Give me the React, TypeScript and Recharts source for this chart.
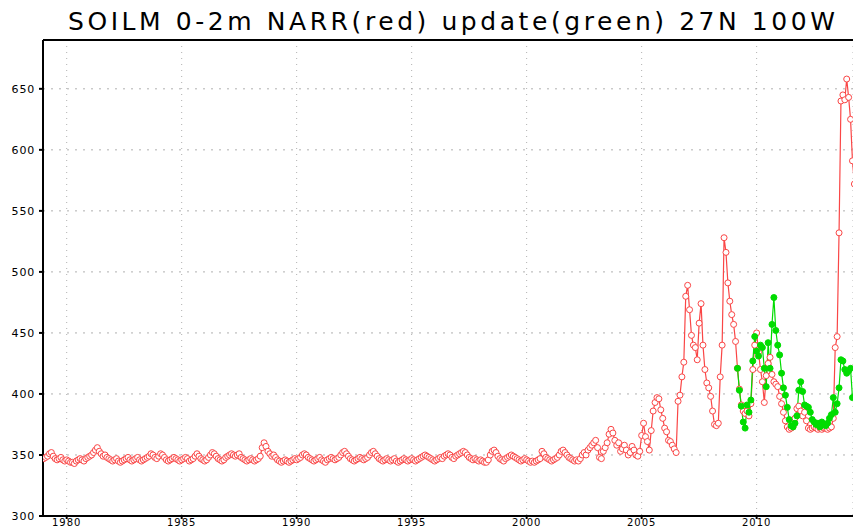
import React from 'react';
import { LineChart, Line, XAxis, YAxis, CartesianGrid, ReferenceLine } from 'recharts';

const TITLE = 'SOILM 0-2m NARR(red) update(green) 27N 100W';

// monthly series, first value = Jan 1979
const START_YEAR = 1979;
// green series starts in Mar 2009
const GREEN_START_INDEX = (2009 - START_YEAR) * 12 + 2;

const red1979to1990 = [
  347, 348, 349, 351, 352, 349, 347, 346, 347, 348, 346, 345,
  346, 345, 344, 344, 343, 345, 346, 347, 346, 345, 347, 348,
  349, 350, 352, 354, 356, 353, 351, 349, 350, 348, 347, 346,
  345, 346, 347, 345, 344, 345, 346, 347, 348, 346, 345, 346,
  347, 348, 346, 345, 346, 347, 348, 349, 351, 350, 348, 347,
  349, 351, 350, 348, 346, 345, 346, 347, 348, 347, 346, 345,
  346, 347, 348, 347, 345, 346, 347, 349, 351, 349, 347, 346,
  345, 346, 348, 350, 352, 351, 349, 347, 346, 345, 346, 348,
  349, 350, 351, 350, 349, 350, 351, 348, 347, 346, 345, 346,
  347, 346, 345, 346, 347, 349, 356, 360, 357, 353, 351, 349,
  350, 348, 346, 345, 344, 345, 346, 345, 344, 345, 346, 347,
  346, 347, 348, 350, 351, 350, 348, 347, 346, 345, 346, 347,
];

const red1991to2002 = [
  348, 346, 345, 344, 346, 347, 348, 347, 346, 347, 348, 350,
  352, 353, 351, 349, 347, 346, 345, 346, 347, 348, 347, 346,
  347, 348, 350, 352, 353, 351, 349, 347, 346, 345, 346, 347,
  346, 345, 346, 347, 345, 344, 345, 346, 347, 346, 345, 346,
  347, 346, 345, 346, 347, 348, 349, 350, 349, 348, 347, 346,
  345, 346, 347, 348, 347, 349, 350, 351, 350, 348, 347, 349,
  350, 351, 352, 353, 352, 350, 348, 347, 346, 347, 346, 345,
  346, 345, 344, 344, 346, 350, 353, 354, 352, 349, 347, 346,
  345, 347, 348, 349, 350, 349, 348, 347, 346, 345, 346, 347,
  346, 345, 344, 345, 344, 345, 346, 347, 353, 351, 348, 347,
  346, 345, 346, 347, 348, 350, 353, 354, 352, 350, 348, 347,
  346, 345, 346, 345, 347, 350, 352, 350, 354, 356, 358, 360,
];

const red2003to2014 = [
  362, 356, 348, 347, 353, 356, 360, 367, 371, 368, 362, 358,
  360, 353, 355, 358, 354, 350, 352, 357, 354, 350, 349, 353,
  366, 376, 365, 361, 354, 370, 386, 393, 397, 396, 387, 380,
  372, 369, 362, 361, 358, 355, 352, 394, 399, 414, 426, 480,
  489, 469, 448, 440, 438, 428, 458, 474, 440, 420, 409, 405,
  398, 386, 375, 374, 376, 414, 440, 528, 516, 491, 476, 465,
  457, 443, 421, 404, 391, 386, 384, 386, 382, 392, 420, 440,
  450, 434, 420, 410, 393, 415, 425, 430, 416, 410, 408, 406,
  398, 392, 385, 378, 373, 371, 372, 373, 380, 388, 390, 386,
  382, 385, 378, 372, 371, 372, 373, 372, 371, 372, 371, 372,
  372, 371, 372, 373, 380, 438, 447, 532, 640, 645, 641, 658,
  643, 625, 591, 572,
];

const greenValues = [
  421, 403, 390, 377, 372, 391, 385, 395, 427, 447,
  435, 431, 440, 438, 421, 406, 442, 421, 457, 479, 452, 440,
  432, 417, 405, 399, 389, 379, 374, 373, 376, 382, 403, 410,
  402, 391, 390, 389, 385, 379, 377, 375, 376, 373, 377, 375,
  374, 376, 380, 383, 397, 385, 392, 405, 428, 427, 420, 417,
  419, 421, 397,
];

const xTicks = [1980, 1985, 1990, 1995, 2000, 2005, 2010];
const yTicks = [300, 350, 400, 450, 500, 550, 600, 650];
const X_DOMAIN: [number, number] = [1978.97, 2014.19];
const Y_DOMAIN: [number, number] = [300, 690];

const RED = '#fa4646';
const GREEN = '#00dc00';

const redValues = [...red1979to1990, ...red1991to2002, ...red2003to2014];
const data = redValues.map((v, i) => {
  const g = i - GREEN_START_INDEX;
  return {
    t: START_YEAR + i / 12,
    red: v,
    green: g >= 0 && g < greenValues.length ? greenValues[g] : null,
  };
});

const yTickFont = { fontSize: 11, fill: '#000', fontFamily: 'DejaVu Sans', letterSpacing: 0.8 };
const xTickFont = { fontSize: 10, fill: '#000', fontFamily: 'DejaVu Sans', letterSpacing: 1 };

export default function App() {
  return (
    <div style={{ position: 'absolute', left: 0, top: 0, width: 853, height: 529, overflow: 'hidden', background: '#fff' }}>
      <svg width={853} height={40} style={{ position: 'absolute', left: 0, top: 0 }}>
        <text
          x={68}
          y={30}
          fontFamily="DejaVu Sans"
          fontSize={25}
          fill="#000"
          textLength={767}
          lengthAdjust="spacing"
        >
          {TITLE}
        </text>
      </svg>
      <div style={{ position: 'absolute', left: 0, top: 0 }}>
        <LineChart width={853} height={529} data={data} margin={{ top: 40, right: 0, bottom: 0, left: 0 }}>
          <CartesianGrid horizontal={true} vertical={false} stroke="#b0b0b0" strokeDasharray="2 6" />
          <CartesianGrid horizontal={false} vertical={true} stroke="#b0b0b0" strokeDasharray="1 5" />
          <XAxis
            dataKey="t"
            type="number"
            domain={X_DOMAIN}
            allowDataOverflow
            ticks={xTicks}
            height={13}
            tickSize={3}
            tickMargin={0}
            stroke="#000"
            strokeWidth={2}
            tick={xTickFont}
          />
          <YAxis
            type="number"
            domain={Y_DOMAIN}
            allowDataOverflow
            ticks={yTicks}
            width={43}
            tickSize={4}
            tickMargin={4}
            stroke="#000"
            strokeWidth={2}
            tick={yTickFont}
          />
          <ReferenceLine y={690} stroke="#000" strokeWidth={2} />
          <Line
            dataKey="red"
            stroke={RED}
            strokeWidth={1.2}
            dot={{ r: 3, fill: '#fff', stroke: RED, strokeWidth: 1 }}
            isAnimationActive={false}
            connectNulls={false}
          />
          <Line
            dataKey="green"
            stroke={GREEN}
            strokeWidth={1.2}
            dot={{ r: 3, fill: GREEN, stroke: GREEN, strokeWidth: 1 }}
            isAnimationActive={false}
            connectNulls={false}
          />
        </LineChart>
      </div>
    </div>
  );
}
